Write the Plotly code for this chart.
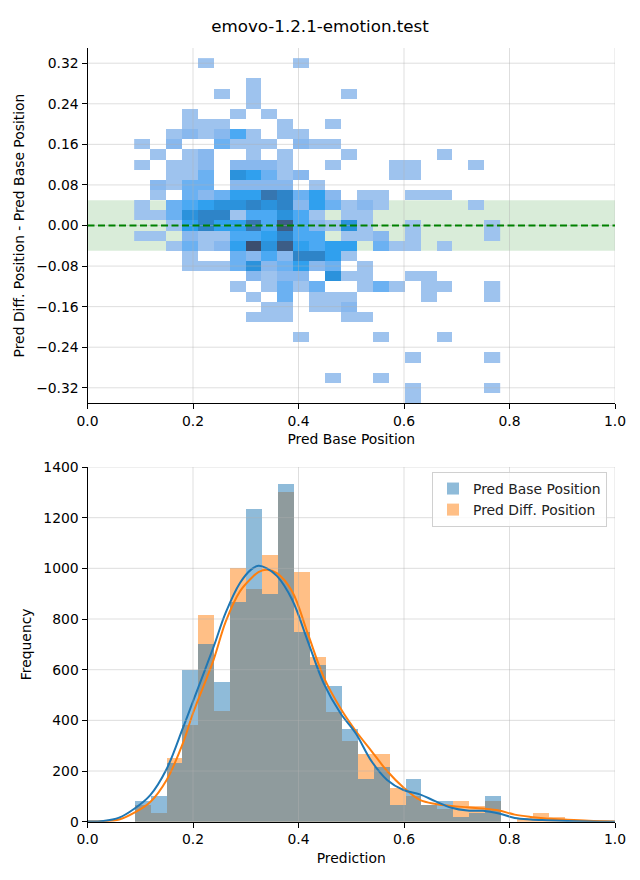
import plotly.graph_objects as go

# ---------------- data ----------------
title_text = "emovo-1.2.1-emotion.test"

hist_bin_start = 0.0885
hist_bin_width = 0.0302

# 2D histogram: rows from top (diff = 0.32) to bottom (diff = -0.34), 23 base-position bins each
diff_row_centers = [0.32, 0.30, 0.28, 0.26, 0.24, 0.22, 0.20, 0.18, 0.16, 0.14, 0.12, 0.10,
                    0.08, 0.06, 0.04, 0.02, 0.00, -0.02, -0.04, -0.06, -0.08, -0.10, -0.12,
                    -0.14, -0.16, -0.18, -0.20, -0.22, -0.24, -0.26, -0.28, -0.30, -0.32, -0.34]
cell_counts = [
    [0, 0, 0, 0, 1, 0, 0, 0, 0, 0, 1, 0, 0, 0, 0, 0, 0, 0, 0, 0, 0, 0, 0],
    [0, 0, 0, 0, 0, 0, 0, 0, 0, 0, 0, 0, 0, 0, 0, 0, 0, 0, 0, 0, 0, 0, 0],
    [0, 0, 0, 0, 0, 0, 0, 1, 0, 0, 0, 0, 0, 0, 0, 0, 0, 0, 0, 0, 0, 0, 0],
    [0, 0, 0, 0, 0, 1, 0, 1, 0, 0, 0, 0, 0, 1, 0, 0, 0, 0, 0, 0, 0, 0, 0],
    [0, 0, 0, 0, 0, 0, 0, 1, 0, 0, 0, 0, 0, 0, 0, 0, 0, 0, 0, 0, 0, 0, 0],
    [0, 0, 0, 1, 0, 0, 1, 0, 1, 0, 0, 0, 0, 0, 0, 0, 0, 0, 0, 0, 0, 0, 0],
    [0, 0, 0, 1, 1, 1, 0, 0, 0, 1, 0, 0, 1, 0, 0, 0, 0, 0, 0, 0, 0, 0, 0],
    [0, 0, 1, 2, 1, 2, 4, 1, 0, 1, 1, 0, 0, 0, 0, 0, 0, 0, 0, 0, 0, 0, 0],
    [1, 0, 2, 0, 0, 3, 1, 1, 1, 0, 2, 1, 1, 0, 0, 0, 0, 0, 0, 0, 0, 0, 0],
    [0, 1, 0, 1, 2, 0, 0, 1, 0, 1, 0, 0, 0, 1, 0, 0, 0, 0, 0, 1, 0, 0, 0],
    [1, 0, 1, 1, 2, 0, 2, 2, 2, 1, 0, 0, 1, 0, 0, 0, 1, 1, 0, 0, 0, 1, 0],
    [0, 0, 1, 1, 3, 0, 6, 5, 3, 1, 2, 0, 0, 0, 0, 0, 1, 1, 0, 0, 0, 0, 0],
    [0, 2, 1, 3, 3, 0, 2, 2, 2, 2, 0, 1, 0, 0, 0, 0, 0, 0, 0, 0, 0, 0, 0],
    [0, 1, 0, 3, 2, 3, 5, 5, 8, 7, 3, 5, 2, 0, 1, 1, 0, 1, 1, 1, 0, 0, 0],
    [1, 0, 3, 4, 5, 6, 6, 7, 6, 7, 2, 5, 3, 1, 2, 1, 0, 0, 0, 0, 0, 1, 0],
    [1, 1, 3, 6, 7, 7, 1, 4, 4, 6, 4, 1, 0, 1, 1, 0, 0, 0, 0, 0, 0, 0, 0],
    [0, 0, 1, 5, 7, 5, 5, 8, 4, 9, 4, 2, 1, 6, 1, 0, 0, 1, 0, 0, 0, 0, 1],
    [1, 1, 0, 2, 1, 1, 4, 4, 5, 7, 4, 4, 0, 1, 1, 2, 0, 1, 0, 0, 0, 0, 1],
    [0, 0, 1, 3, 1, 2, 5, 10, 6, 9, 5, 4, 5, 5, 0, 3, 1, 1, 0, 1, 0, 0, 0],
    [0, 0, 0, 1, 0, 0, 3, 2, 4, 2, 7, 7, 5, 1, 0, 0, 0, 0, 0, 0, 0, 0, 0],
    [0, 0, 0, 1, 1, 1, 3, 6, 2, 3, 5, 2, 3, 0, 1, 0, 0, 0, 0, 0, 0, 0, 0],
    [0, 0, 0, 0, 0, 0, 0, 2, 1, 2, 2, 0, 6, 1, 1, 0, 0, 1, 1, 0, 0, 0, 0],
    [0, 0, 0, 0, 0, 0, 1, 0, 1, 3, 1, 3, 0, 0, 1, 3, 1, 0, 1, 1, 0, 0, 1],
    [0, 0, 0, 0, 0, 0, 0, 1, 0, 3, 0, 1, 1, 1, 0, 0, 0, 0, 1, 0, 0, 0, 1],
    [0, 0, 0, 0, 0, 0, 0, 0, 1, 1, 0, 1, 1, 2, 0, 0, 0, 0, 0, 0, 0, 0, 0],
    [0, 0, 0, 0, 0, 0, 0, 1, 1, 1, 0, 0, 0, 1, 1, 0, 0, 0, 0, 0, 0, 0, 0],
    [0, 0, 0, 0, 0, 0, 0, 0, 0, 0, 0, 0, 0, 0, 0, 0, 0, 0, 0, 0, 0, 0, 0],
    [0, 0, 0, 0, 0, 0, 0, 0, 0, 0, 1, 0, 0, 0, 0, 1, 0, 0, 0, 1, 0, 0, 0],
    [0, 0, 0, 0, 0, 0, 0, 0, 0, 0, 0, 0, 0, 0, 0, 0, 0, 0, 0, 0, 0, 0, 0],
    [0, 0, 0, 0, 0, 0, 0, 0, 0, 0, 0, 0, 0, 0, 0, 0, 0, 1, 0, 0, 0, 0, 1],
    [0, 0, 0, 0, 0, 0, 0, 0, 0, 0, 0, 0, 0, 0, 0, 0, 0, 0, 0, 0, 0, 0, 0],
    [0, 0, 0, 0, 0, 0, 0, 0, 0, 0, 0, 0, 1, 0, 0, 1, 0, 0, 0, 0, 0, 0, 0],
    [0, 0, 0, 0, 0, 0, 0, 0, 0, 0, 0, 0, 0, 0, 0, 0, 0, 1, 0, 0, 0, 0, 1],
    [0, 0, 0, 0, 0, 0, 0, 0, 0, 0, 0, 0, 0, 0, 0, 0, 0, 1, 0, 0, 0, 0, 0],
]

# 1D histograms (counts per bin)
base_counts = [82, 101, 232, 598, 703, 552, 868, 1235, 900, 1334, 749, 620, 536, 366,
               169, 217, 66, 169, 66, 81, 20, 34, 102]
diff_counts = [66, 36, 252, 382, 817, 435, 1001, 918, 1054, 1303, 986, 651, 433, 319,
               267, 268, 133, 102, 66, 50, 80, 63, 80, 0, 15, 35, 18, 6, 3, 2]

# KDE curves (scaled to counts)
kde_x = [0.0, 0.03, 0.06, 0.088, 0.119, 0.15, 0.18, 0.2, 0.239, 0.262, 0.289, 0.31,
         0.324, 0.34, 0.359, 0.388, 0.418, 0.448, 0.479, 0.509, 0.538, 0.568, 0.599,
         0.63, 0.66, 0.69, 0.72, 0.75, 0.78, 0.81, 0.84, 0.87, 0.91, 0.95, 1.0]
kde_base = [1, 3, 16, 50, 105, 208, 365, 475, 690, 825, 942, 995,
            1010, 1000, 970, 876, 710, 545, 430, 347, 240, 165, 125,
            108, 80, 55, 44, 43, 32, 15, 9, 6, 3, 1, 0]
kde_diff = [1, 2, 9, 35, 78, 165, 305, 428, 639, 790, 909, 960,
            985, 994, 981, 909, 740, 570, 450, 357, 280, 200, 135,
            86, 70, 62, 57, 52, 44, 28, 19, 13, 8, 4, 1]

x_ticks = [0.0, 0.2, 0.4, 0.6, 0.8, 1.0]
top_y_ticks = [-0.32, -0.24, -0.16, -0.08, 0.0, 0.08, 0.16, 0.24, 0.32]
bottom_y_ticks = [0, 200, 400, 600, 800, 1000, 1200, 1400]

# ---------------- figure ----------------
W, H = 640, 880
FONT = "DejaVu Sans"
left, right = 87.5, 615
top1, bot1 = 48, 403
top2, bot2 = 467, 821.7

def xdom():
    return [left / W, right / W]

def ydom(t, b):
    return [1 - b / H, 1 - t / H]

def centers(n):
    return [hist_bin_start + (i + 0.5) * hist_bin_width for i in range(n)]

fig = go.Figure()

# heatmap (2D histogram)
levels = ["#9ec3ee", "#88b8ee", "#6bb1f2", "#4ba9f3", "#30a0ee",
          "#2b92dc", "#2e84c8", "#3676b0", "#3c5d86", "#3b4e6e"]
cscale = [[i / (len(levels) - 1), c] for i, c in enumerate(levels)]
z = [[(v if v > 0 else None) for v in row] for row in cell_counts[::-1]]
fig.add_trace(go.Heatmap(
    x=centers(len(cell_counts[0])), y=diff_row_centers[::-1], z=z,
    colorscale=cscale, zmin=1, zmax=len(levels), showscale=False,
    hoverinfo="skip", xaxis="x", yaxis="y"))

# histograms (orange first so blue is drawn on top as in the reference)
fig.add_trace(go.Bar(
    x=centers(len(diff_counts)), y=diff_counts, width=hist_bin_width,
    marker=dict(color="rgba(255,127,14,0.5)", line=dict(width=0)),
    name="Pred Diff. Position", xaxis="x2", yaxis="y2", hoverinfo="skip"))
fig.add_trace(go.Bar(
    x=centers(len(base_counts)), y=base_counts, width=hist_bin_width,
    marker=dict(color="rgba(31,119,180,0.5)", line=dict(width=0)),
    name="Pred Base Position", xaxis="x2", yaxis="y2", hoverinfo="skip"))
fig.add_trace(go.Scatter(
    x=kde_x, y=kde_diff, mode="lines", line=dict(color="#ff7f0e", width=2, shape="spline"),
    showlegend=False, xaxis="x2", yaxis="y2", hoverinfo="skip"))
fig.add_trace(go.Scatter(
    x=kde_x, y=kde_base, mode="lines", line=dict(color="#1f77b4", width=2, shape="spline"),
    showlegend=False, xaxis="x2", yaxis="y2", hoverinfo="skip"))

tickfont = dict(family=FONT, size=13.9, color="black")
axis_common = dict(showgrid=False, zeroline=False, showline=True, linecolor="black",
                   linewidth=1, ticks="outside", ticklen=5, tickwidth=1,
                   tickcolor="black", tickfont=tickfont, mirror=False, automargin=False)

def fmt_signed(v):
    s = f"{abs(v):.2f}"
    return ("\u2212" + s) if v < 0 else s

fig.update_layout(
    width=W, height=H, margin=dict(l=0, r=0, t=0, b=0, autoexpand=False),
    paper_bgcolor="white", plot_bgcolor="white",
    font=dict(family=FONT, color="black"),
    barmode="overlay", bargap=0,
    title=dict(text=title_text, x=0.5, xanchor="center", y=1 - 26 / H, yanchor="middle",
               font=dict(family=FONT, size=16.7, color="black")),
    xaxis=dict(axis_common, domain=xdom(), anchor="y", range=[0, 1],
               tickvals=x_ticks, ticktext=[f"{v:.1f}" for v in x_ticks],
               title=dict(text="Pred Base Position", font=dict(family=FONT, size=13.9), standoff=6)),
    yaxis=dict(axis_common, domain=ydom(top1, bot1), anchor="x", range=[-0.35, 0.35],
               tickvals=top_y_ticks, ticktext=[fmt_signed(v) for v in top_y_ticks],
               title=dict(text="Pred Diff. Position - Pred Base Position",
                          font=dict(family=FONT, size=13.9), standoff=8)),
    xaxis2=dict(axis_common, domain=xdom(), anchor="y2", range=[0, 1],
                tickvals=x_ticks, ticktext=[f"{v:.1f}" for v in x_ticks],
                title=dict(text="Prediction", font=dict(family=FONT, size=13.9), standoff=6)),
    yaxis2=dict(axis_common, domain=ydom(top2, bot2), anchor="x2", range=[0, 1400],
                tickvals=bottom_y_ticks, ticktext=[str(v) for v in bottom_y_ticks],
                title=dict(text="Frequency", font=dict(family=FONT, size=13.9), standoff=8)),
    legend=dict(x=607 / W, xanchor="right", y=1 - 472 / H, yanchor="top",
                traceorder="reversed", bgcolor="rgba(255,255,255,0.8)",
                bordercolor="#d0d0d0", borderwidth=1, tracegroupgap=0,
                font=dict(family=FONT, size=13.9, color="#222")),
)

shapes = []
# green tolerance band and zero line (top panel)
shapes.append(dict(type="rect", xref="x", yref="y", x0=0, x1=1, y0=-0.05, y1=0.05,
                   fillcolor="rgba(0,128,0,0.15)", line=dict(width=0), layer="below"))
grid_col = "rgba(176,176,176,0.42)"
for xa, ya, yt, yr in (("x", "y", top_y_ticks, (-0.35, 0.35)), ("x2", "y2", bottom_y_ticks, (0, 1400))):
    for v in x_ticks[1:]:
        shapes.append(dict(type="line", xref=xa, yref=ya, x0=v, x1=v, y0=yr[0], y1=yr[1],
                           line=dict(color=grid_col, width=1), layer="above"))
    for v in yt:
        if v == yr[0]:
            continue
        shapes.append(dict(type="line", xref=xa, yref=ya, x0=0, x1=1, y0=v, y1=v,
                           line=dict(color=grid_col, width=1), layer="above"))
shapes.append(dict(type="line", xref="x", yref="y", x0=0, x1=1, y0=0, y1=0,
                   line=dict(color="green", width=2, dash="7px,3.5px"), layer="above"))
fig.update_layout(shapes=shapes)

fig.write_html("out.html")
